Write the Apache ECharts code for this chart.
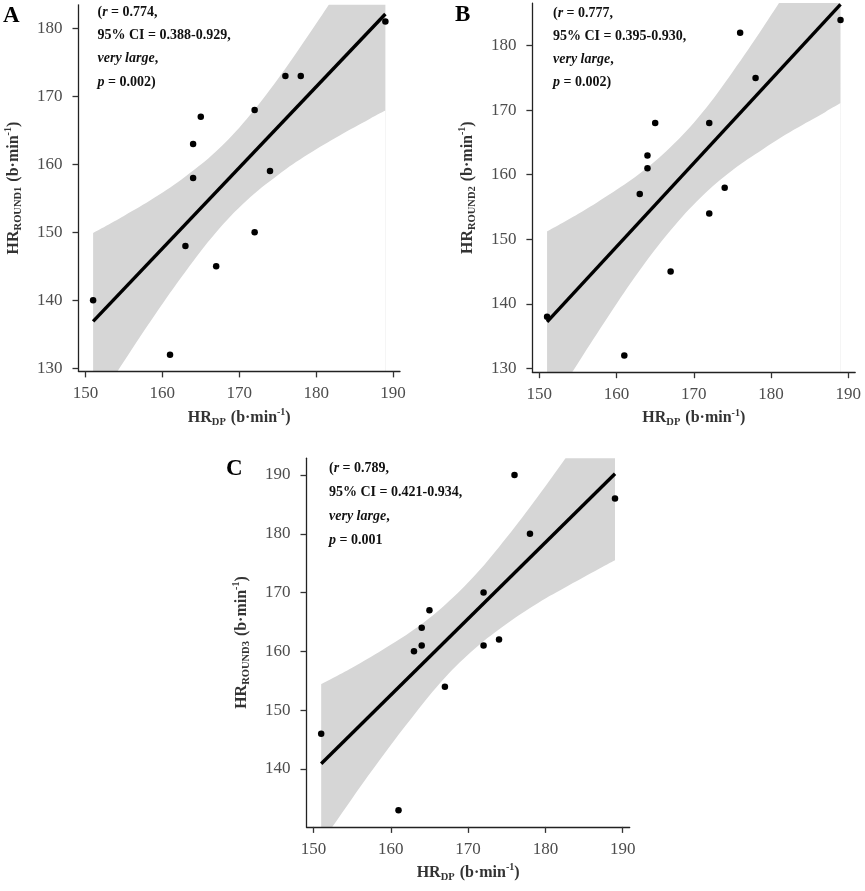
<!DOCTYPE html>
<html>
<head>
<meta charset="utf-8">
<script src="https://cdn.jsdelivr.net/npm/echarts@6/dist/echarts.min.js"></script>
<style>
  html, body { margin: 0; padding: 0; background: #fff; }
  #chart { width: 865px; height: 891px; }
</style>
</head>
<body>
<div id="chart"></div>
<script>
// HR during the drill protocol vs HR in each round, with linear fit and 95% band

const xDP = [151, 161, 163, 164, 164, 165, 167, 172, 172, 174, 176, 178, 189];
const yRound1 = [140, 132, 148, 163, 158, 167, 145, 168, 150, 159, 173, 173, 181];
const yRound2 = [138, 132, 157, 163, 161, 168, 145, 168, 154, 158, 182, 175, 184];
const yRound3 = [146, 133, 160, 164, 161, 167, 154, 170, 161, 162, 190, 180, 186];

// confidence band edges, read at these x positions
const bandX = [151, 155, 159, 163, 167, 171, 175, 179, 183, 187, 189];
const bandLow1 = [124.0, 131.0, 137.8, 144.2, 150.0, 154.7, 158.4, 161.5, 164.2, 166.7, 167.9];
const bandHigh1 = [149.9, 152.4, 155.1, 158.2, 161.9, 166.7, 172.5, 179.0, 185.8, 192.8, 196.3];
const bandLow2 = [123.2, 130.8, 138.2, 145.2, 151.4, 156.6, 160.7, 164.0, 167.0, 169.7, 171.1];
const bandHigh2 = [151.2, 153.9, 156.9, 160.2, 164.3, 169.5, 175.9, 182.9, 190.3, 197.9, 201.7];
const bandLow3 = [127.4, 135.0, 142.3, 149.2, 155.5, 160.6, 164.7, 168.2, 171.2, 174.1, 175.5];
const bandHigh3 = [154.4, 157.2, 160.3, 163.7, 167.9, 173.1, 179.4, 186.3, 193.6, 201.2, 205.0];

// fitted line end points
const fitX = [151, 189];
const fit1 = [136.9, 182.1];
const fit2 = [137.2, 186.4];
const fit3 = [140.9, 190.2];

const xTicks = [150, 160, 170, 180, 190];
const yTicks1 = [130, 140, 150, 160, 170, 180];
const yTicks2 = [130, 140, 150, 160, 170, 180];
const yTicks3 = [140, 150, 160, 170, 180, 190];

const panelLetters = ["A", "B", "C"];
const roundNames = ["ROUND1", "ROUND2", "ROUND3"];
const rValues = ["0.774", "0.777", "0.789"];
const ciValues = ["0.388-0.929", "0.395-0.930", "0.421-0.934"];
const pValues = ["0.002)", "0.002)", "0.001"];

const SERIF = "'Liberation Serif', 'Times New Roman', serif";
const BAND = "#d6d6d6";

const panels = [
    {
        grid: { left: 78.5, top: 4.8, width: 321.5, height: 366.6 },
        yMin: 129.55, yMax: 183.45, yTicks: yTicks1,
        ys: yRound1, low: bandLow1, high: bandHigh1, fit: fit1,
        letterPos: [3, 4.5], notePos: [97.5, 5], noteLH: 23.3,
    },
    {
        grid: { left: 532.4, top: 3.1, width: 322.8, height: 369.1 },
        yMin: 129.4, yMax: 186.6, yTicks: yTicks2,
        ys: yRound2, low: bandLow2, high: bandHigh2, fit: fit2,
        letterPos: [455, 4], notePos: [553, 6.5], noteLH: 23,
    },
    {
        grid: { left: 306.5, top: 458.2, width: 323.2, height: 368.7 },
        yMin: 130.15, yMax: 192.85, yTicks: yTicks3,
        ys: yRound3, low: bandLow3, high: bandHigh3, fit: fit3,
        letterPos: [226, 457.5], notePos: [329, 461.5], noteLH: 23.9,
    },
];

const nameRich = {
    hr: { fontFamily: SERIF, fontWeight: "bold", fontSize: 16, color: "#333", lineHeight: 20 },
    sub: { fontFamily: SERIF, fontWeight: "bold", fontSize: 10.5, color: "#333", verticalAlign: "bottom", lineHeight: 20, padding: [0, 1, 0, 0] },
    sup: { fontFamily: SERIF, fontWeight: "bold", fontSize: 10, color: "#333", verticalAlign: "top", lineHeight: 20 },
};

function axisBase(ticks, margin) {
    return {
        type: "value",
        z: 10,
        splitLine: { show: false },
        axisLine: { show: true, lineStyle: { color: "#222", width: 1.3 } },
        axisTick: { show: true, length: 6, lineStyle: { color: "#333", width: 1.3 }, customValues: ticks },
        axisLabel: { fontFamily: SERIF, fontSize: 17, color: "#4d4d4d", margin, customValues: ticks },
        nameLocation: "middle",
        nameTextStyle: { rich: nameRich },
    };
}

const grids = [];
const xAxes = [];
const yAxes = [];
const series = [];
const graphics = [];

panels.forEach((p, i) => {
    grids.push({ ...p.grid, containLabel: false });

    xAxes.push({
        ...axisBase(xTicks, 14),
        gridIndex: i,
        min: 149.1,
        max: 190.9,
        name: "{hr|HR}{sub|DP}{hr| (b·min}{sup|-1}{hr|)}",
        nameGap: 36,
    });

    yAxes.push({
        ...axisBase(p.yTicks, 16),
        gridIndex: i,
        min: p.yMin,
        max: p.yMax,
        name: `{hr|HR}{sub|${roundNames[i]}}{hr| (b·min}{sup|-1}{hr|)}`,
        nameGap: 55,
    });

    // band: grey fill under the upper edge, then white fill under the lower edge
    series.push({
        type: "line",
        xAxisIndex: i,
        yAxisIndex: i,
        data: bandX.map((x, k) => [x, p.high[k]]),
        symbol: "none",
        smooth: 0.4,
        lineStyle: { width: 0, opacity: 0 },
        areaStyle: { color: BAND, opacity: 1, origin: "start" },
        silent: true,
        z: 1,
    });
    series.push({
        type: "line",
        xAxisIndex: i,
        yAxisIndex: i,
        data: bandX.map((x, k) => [x, p.low[k]]),
        symbol: "none",
        smooth: 0.4,
        lineStyle: { width: 0, opacity: 0 },
        areaStyle: { color: "#fff", opacity: 1, origin: "start" },
        silent: true,
        z: 1,
    });

    series.push({
        type: "line",
        xAxisIndex: i,
        yAxisIndex: i,
        data: fitX.map((x, k) => [x, p.fit[k]]),
        symbol: "none",
        lineStyle: { color: "#000", width: 3.4 },
        silent: true,
        z: 3,
    });

    series.push({
        type: "scatter",
        xAxisIndex: i,
        yAxisIndex: i,
        data: xDP.map((x, k) => [x, p.ys[k]]),
        symbol: "circle",
        symbolSize: 6.5,
        itemStyle: { color: "#000", opacity: 1 },
        z: 4,
    });

    graphics.push({
        type: "text",
        left: p.letterPos[0],
        top: p.letterPos[1],
        style: {
            text: panelLetters[i],
            fontFamily: SERIF,
            fontWeight: "bold",
            fontSize: 23,
            fill: "#000",
        },
    });

    const lh = p.noteLH;
    graphics.push({
        type: "text",
        left: p.notePos[0],
        top: p.notePos[1],
        z: 10,
        style: {
            text:
                `{b|(}{bi|r}{b| = ${rValues[i]},}\n` +
                `{b|95% CI = ${ciValues[i]},}\n` +
                `{bi|very large}{b|,}\n` +
                `{bi|p}{b| = ${pValues[i]}}`,
            rich: {
                b: { fontFamily: SERIF, fontWeight: "bold", fontSize: 14, fill: "#111", lineHeight: lh },
                bi: { fontFamily: SERIF, fontWeight: "bold", fontStyle: "italic", fontSize: 14, fill: "#111", lineHeight: lh },
            },
        },
    });
});

const chart = echarts.init(document.getElementById("chart"), null, { renderer: "canvas" });
chart.setOption({
    backgroundColor: "#fff",
    animation: false,
    grid: grids,
    xAxis: xAxes,
    yAxis: yAxes,
    series,
    graphic: graphics,
});
</script>
</body>
</html>
